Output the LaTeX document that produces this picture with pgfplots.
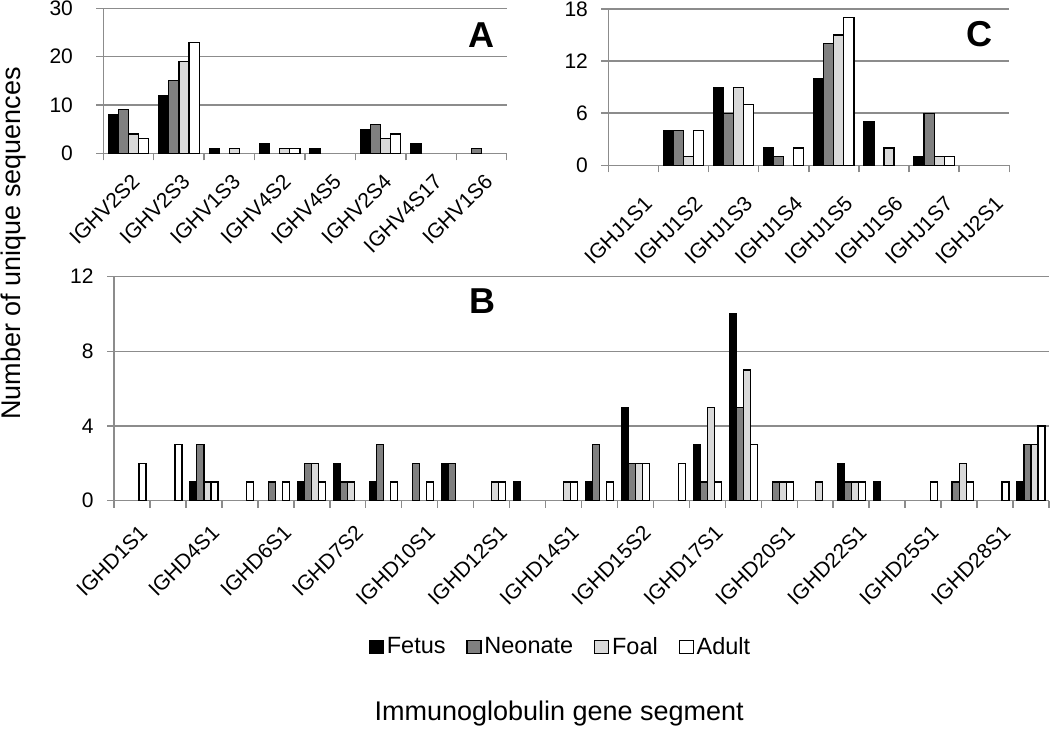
\documentclass[border=0pt]{standalone}
\usepackage{fontspec}
\setmainfont{Liberation Sans}
\usepackage{pgfplots}
\pgfplotsset{compat=1.18}
\definecolor{gridgray}{HTML}{8C8C8C}
\definecolor{neo}{HTML}{808080}
\definecolor{foal}{HTML}{D9D9D9}
\pgfplotsset{
  panel/.style={
    scale only axis,
    axis x line*=bottom, axis y line*=left,
    axis line style={draw=gridgray, line width=0.75pt},
    ymajorgrids=true,
    major grid style={draw=gridgray, line width=0.75pt},
    tick align=outside,
    major tick length=3.5pt,
    tick style={draw=gridgray, line width=0.75pt},
    x tick label as interval,
    ymin=0, enlargelimits=false,
    /pgf/number format/assume math mode=true,
    yticklabel style={font=\fontsize{10.5}{12}\selectfont, inner sep=0pt, xshift=-6.5pt},
    xticklabel style={rotate=45, anchor=north east, inner sep=0pt,
      font=\fontsize{10.5}{12}\selectfont},
    clip=false,
  },
  fetus/.style={ybar, fill=black, draw=black, line width=0.6pt},
  neon/.style={ybar, fill=neo, draw=black, line width=0.6pt},
  foals/.style={ybar, fill=foal, draw=black, line width=0.6pt},
  adult/.style={ybar, fill=white, draw=black, line width=0.6pt},
}
\begin{document}
\begin{tikzpicture}
\useasboundingbox (0,0) rectangle (525pt,365pt);
% ---------------- Panel A ----------------
\begin{axis}[panel,
  at={(51.65pt,288.35pt)}, anchor=south west,
  width=201.7pt, height=72.5pt,
  xmin=-0.5, xmax=7.5, ymax=30, ytick={0,10,20,30},
  xtick={-0.5,0.5,...,7.5},
  xticklabels={IGHV2S2,IGHV2S3,IGHV1S3,IGHV4S2,IGHV4S5,IGHV2S4,IGHV4S17,IGHV1S6},
  xticklabel style={xshift=-3.5pt, yshift=-4.85pt},
  yticklabel style={xshift=-5pt},
]
\addplot[fetus, bar width=0.2, bar shift=-0.3] coordinates {(0,8)(1,12)(2,1)(3,2)(4,1)(5,5)(6,2)};
\addplot[neon, bar width=0.2, bar shift=-0.1] coordinates {(0,9)(1,15)(5,6)(7,1)};
\addplot[foals, bar width=0.2, bar shift=0.1] coordinates {(0,4)(1,19)(2,1)(3,1)(5,3)};
\addplot[adult, bar width=0.2, bar shift=0.3] coordinates {(0,3)(1,23)(3,1)(5,4)};
\end{axis}
% ---------------- Panel C ----------------
\begin{axis}[panel,
  at={(304.15pt,282.35pt)}, anchor=south west,
  width=200.5pt, height=78.15pt,
  xmin=-0.5, xmax=7.5, ymax=18, ytick={0,6,12,18},
  xtick={-0.5,0.5,...,7.5},
  xticklabels={IGHJ1S1,IGHJ1S2,IGHJ1S3,IGHJ1S4,IGHJ1S5,IGHJ1S6,IGHJ1S7,IGHJ2S1},
  xticklabel style={xshift=-4.5pt, yshift=-11.35pt},
]
\addplot[fetus, bar width=0.2, bar shift=-0.3] coordinates {(1,4)(2,9)(3,2)(4,10)(5,5)(6,1)};
\addplot[neon, bar width=0.2, bar shift=-0.1] coordinates {(1,4)(2,6)(3,1)(4,14)(6,6)};
\addplot[foals, bar width=0.2, bar shift=0.1] coordinates {(1,1)(2,9)(4,15)(5,2)(6,1)};
\addplot[adult, bar width=0.2, bar shift=0.3] coordinates {(1,4)(2,7)(3,2)(4,17)(6,1)};
\end{axis}
% ---------------- Panel B ----------------
\begin{axis}[panel,
  at={(57pt,114.65pt)}, anchor=south west,
  width=467.5pt, height=112.05pt,
  xmin=-0.5, xmax=25.5, ymax=12, ytick={0,4,8,12},
  xtick={-0.5,0.5,...,25.5},
  xticklabels={IGHD1S1,{},IGHD4S1,{},IGHD6S1,{},IGHD7S2,{},IGHD10S1,{},IGHD12S1,{},IGHD14S1,{},IGHD15S2,{},IGHD17S1,{},IGHD20S1,{},IGHD22S1,{},IGHD25S1,{},IGHD28S1,{}},
  xticklabel style={xshift=-3.3pt, yshift=-7.8pt},
  legend columns=4,
  legend image code/.code={\draw[#1] (0pt,-3.4pt) rectangle (7pt,3.4pt);},
  legend style={at={(rel axis cs:0.478,-0.653)}, anchor=center, draw=none, fill=none,
    font=\fontsize{11.75}{13}\selectfont,
    /tikz/every even column/.append style={column sep=9pt},
    nodes={inner sep=1.4pt}},
]
\addplot[fetus, bar width=0.195, bar shift=-0.2925] coordinates {(2,1)(5,1)(6,2)(7,1)(9,2)(11,1)(13,1)(14,5)(16,3)(17,10)(20,2)(21,1)(25,1)};
\addlegendentry{Fetus}
\addplot[neon, bar width=0.195, bar shift=-0.0975] coordinates {(2,3)(4,1)(5,2)(6,1)(7,3)(8,2)(9,2)(13,3)(14,2)(16,1)(17,5)(18,1)(20,1)(23,1)(25,3)};
\addlegendentry{Neonate}
\addplot[foals, bar width=0.195, bar shift=0.0975] coordinates {(2,1)(5,2)(6,1)(10,1)(12,1)(14,2)(16,5)(17,7)(18,1)(19,1)(20,1)(23,2)(25,3)};
\addlegendentry{Foal}
\addplot[adult, bar width=0.195, bar shift=0.2925] coordinates {(0,2)(1,3)(2,1)(3,1)(4,1)(5,1)(7,1)(8,1)(10,1)(12,1)(13,1)(14,2)(15,2)(16,1)(17,3)(18,1)(20,1)(22,1)(23,1)(24,1)(25,4)};
\addlegendentry{Adult}
\end{axis}
% ---------------- Titles ----------------
\node[font=\fontsize{18}{20}\selectfont\bfseries] at (240.5pt,347.25pt) {A};
\node[font=\fontsize{18}{20}\selectfont\bfseries] at (489.5pt,348.15pt) {C};
\node[font=\fontsize{18}{20}\selectfont\bfseries] at (241.25pt,214.25pt) {B};
\node[font=\fontsize{13.5}{15}\selectfont, rotate=90, inner sep=0pt] at (6.9pt,243.35pt) {Number of unique sequences};
\node[font=\fontsize{13.5}{15}\selectfont] at (279.6pt,8pt) {Immunoglobulin gene segment};
\end{tikzpicture}
\end{document}
